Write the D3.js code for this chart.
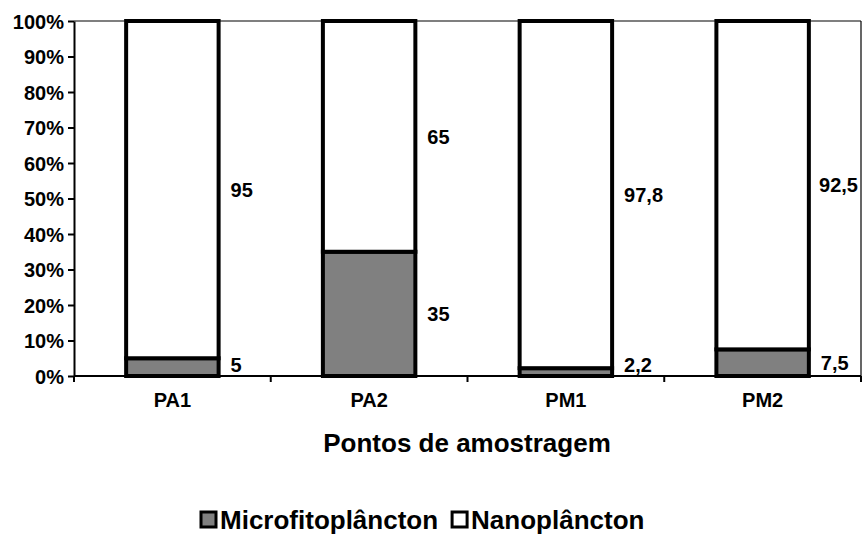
<!DOCTYPE html>
<html><head><meta charset="utf-8">
<script src="https://cdn.jsdelivr.net/npm/d3@7"></script>
<style>body{margin:0;background:#fff}svg{display:block}text{font-family:"Liberation Sans",Arial,sans-serif;font-weight:bold;fill:#000}</style>
</head><body>
<svg id="c" width="862" height="557"></svg>
<script>
const categories = ["PA1","PA2","PM1","PM2"];
const micro = [5, 35, 2.2, 7.5];
const nano = [95, 65, 97.8, 92.5];
const microLabels = ["5","35","2,2","7,5"];
const nanoLabels = ["95","65","97,8","92,5"];
const yTicks = [0,10,20,30,40,50,60,70,80,90,100];
const seriesNames = ["Microfitoplâncton","Nanoplâncton"];

const W = 862;
const svg = d3.select("#c");
const L=74,R=861,T=21,B=376;
const x = d3.scaleBand().domain(categories).range([L,R]).paddingInner(0.53).paddingOuter(0.265);
const y = d3.scaleLinear().domain([0,100]).range([B,T]);

// plot area border (top & right)
svg.append("line").attr("x1",L).attr("x2",R).attr("y1",T).attr("y2",T).attr("stroke","#000").attr("stroke-width",1.2);
svg.append("line").attr("x1",R).attr("x2",R).attr("y1",T).attr("y2",B).attr("stroke","#000").attr("stroke-width",1.2);

// bars
const data = categories.map((c,i)=>({c, m:micro[i], n:nano[i], ml:microLabels[i], nl:nanoLabels[i]}));
const g = svg.append("g");
function label(xx, yy, txt){
  const t = g.append("text").attr("x",xx).attr("y",Math.min(yy, B-11)).attr("dy","0.36em").attr("font-size",20).text(txt);
  const w = t.node().getComputedTextLength();
  if (xx + w > W - 4) t.attr("x", W - 4 - w);
}
data.forEach(d=>{
  g.append("rect").attr("x",x(d.c)).attr("width",x.bandwidth())
    .attr("y",y(d.m)).attr("height",y(0)-y(d.m)).attr("fill","#808080").attr("stroke","#000").attr("stroke-width",4);
  g.append("rect").attr("x",x(d.c)).attr("width",x.bandwidth())
    .attr("y",y(d.m+d.n)).attr("height",y(d.m)-y(d.m+d.n)).attr("fill","#fff").attr("stroke","#000").attr("stroke-width",4);
});
data.forEach(d=>{
  label(x(d.c)+x.bandwidth()+12, y(d.m/2), d.ml);
  label(x(d.c)+x.bandwidth()+12, y(d.m+d.n/2), d.nl);
});

// y axis
const ya = svg.append("g").attr("transform",`translate(${L},0)`)
  .call(d3.axisLeft(y).tickValues(yTicks).tickFormat(d=>d+"%").tickSize(6).tickSizeOuter(0));
ya.attr("font-family",null).attr("font-size",null);
ya.select(".domain").attr("stroke","#000").attr("stroke-width",2);
ya.selectAll(".tick line").attr("stroke","#000").attr("stroke-width",2);
ya.selectAll(".tick text").attr("font-size",20).attr("x",-10).attr("dy","0.36em");

// x axis
svg.append("line").attr("x1",L).attr("x2",R).attr("y1",B).attr("y2",B).attr("stroke","#000").attr("stroke-width",2);
d3.range(categories.length+1).forEach(i=>{
  const xx = L + i*(R-L)/categories.length;
  svg.append("line").attr("x1",xx).attr("x2",xx).attr("y1",B).attr("y2",B+6).attr("stroke","#000").attr("stroke-width",2);
});
categories.forEach(c=>{
  svg.append("text").attr("x",x(c)+x.bandwidth()/2).attr("y",407).attr("text-anchor","middle").attr("font-size",20).text(c);
});
svg.append("text").attr("x",467).attr("y",452).attr("text-anchor","middle").attr("font-size",26).text("Pontos de amostragem");

// legend
const leg = svg.append("g");
const fills = ["#808080","#fff"];
let lx = 201;
seriesNames.forEach((s,i)=>{
  leg.append("rect").attr("x",lx).attr("y",512).attr("width",15).attr("height",15).attr("fill",fills[i]).attr("stroke","#000").attr("stroke-width",3);
  const t = leg.append("text").attr("x",lx+19).attr("y",529).attr("font-size",26).text(s);
  lx += 19 + t.node().getComputedTextLength() + 14;
});
</script>
</body></html>
